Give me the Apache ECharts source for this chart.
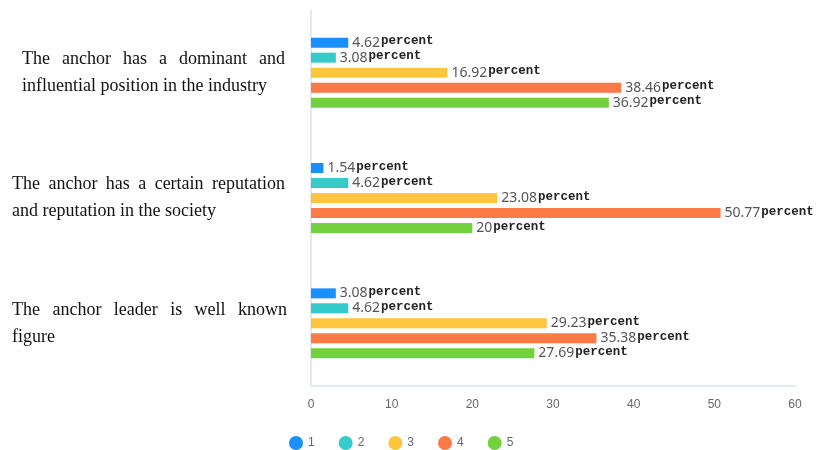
<!DOCTYPE html>
<html>
<head>
<meta charset="utf-8">
<script src="https://cdn.jsdelivr.net/npm/echarts@6/dist/echarts.min.js"></script>
<style>
  html, body { margin: 0; padding: 0; background: #fff; }
  #chart { width: 821px; height: 450px; }
</style>
</head>
<body>
<div id="chart"></div>
<script>
// Survey statements (top to bottom)
const statements = [
  'The anchor has a dominant and influential position in the industry',
  'The anchor has a certain reputation and reputation in the society',
  'The anchor leader is well known figure'
];
// How each statement wraps on the left
const statementLines = [
  ['The anchor has a dominant and', 'influential position in the industry'],
  ['The anchor has a certain reputation', 'and reputation in the society'],
  ['The anchor leader is well known', 'figure']
];
// Rating levels
const levels = ['1', '2', '3', '4', '5'];
// Share of respondents (percent) per level, per statement
const level1 = [4.62, 1.54, 3.08];
const level2 = [3.08, 4.62, 4.62];
const level3 = [16.92, 23.08, 29.23];
const level4 = [38.46, 50.77, 35.38];
const level5 = [36.92, 20, 27.69];
const levelValues = [level1, level2, level3, level4, level5];
// Value axis ticks
const xTicks = [0, 10, 20, 30, 40, 50, 60];

const colors = ['#1890ff', '#36cbcb', '#ffc53d', '#ff7a45', '#73d13d'];

// Justified first lines for the category labels
const LABEL_SIZE = 18;
const LABEL_FAMILY = '"Liberation Serif", "Times New Roman", serif';
const LINE_H = 27;
const justifySpec = [
  { indent: 10, width: 263 },
  { indent: 0, width: 273 },
  { indent: 0, width: 275 }
];
const measureCtx = document.createElement('canvas').getContext('2d');
measureCtx.font = LABEL_SIZE + 'px ' + LABEL_FAMILY;
const textWidth = s => measureCtx.measureText(s).width;

const labelRich = {
  w: { fontFamily: LABEL_FAMILY, fontSize: LABEL_SIZE, color: '#111', lineHeight: LINE_H }
};
const labelText = {};
statementLines.forEach((lines, i) => {
  const spec = justifySpec[i];
  const words = lines[0].split(' ');
  const wordsW = words.reduce((a, w) => a + textWidth(w), 0);
  const gap = Math.max((spec.width - wordsW) / (words.length - 1), 2);
  const gName = 'g' + i;
  labelRich[gName] = { width: gap, fontSize: LABEL_SIZE, lineHeight: LINE_H };
  const iName = 'i' + i;
  labelRich[iName] = { width: Math.max(spec.indent, 0.01), fontSize: LABEL_SIZE, lineHeight: LINE_H };
  const lead = spec.indent ? '{' + iName + '| }' : '';
  const first = lead + words.map(w => '{w|' + w + '}').join('{' + gName + '| }');
  const second = lead + '{w|' + lines[1] + '}';
  labelText[statements[i]] = first + '\n' + second;
});

const chart = echarts.init(document.getElementById('chart'));
chart.setOption({
  animation: false,
  color: colors,
  grid: { left: 311, right: 26, top: 10, bottom: 64, containLabel: false },
  legend: {
    data: levels,
    left: 284,
    top: 431,
    icon: 'circle',
    itemWidth: 14,
    itemHeight: 14,
    itemGap: 24,
    textStyle: { color: '#666', fontSize: 12 }
  },
  xAxis: {
    type: 'value',
    min: xTicks[0],
    max: xTicks[xTicks.length - 1],
    interval: 10,
    axisLine: { show: true, lineStyle: { color: '#e3e8f3', width: 2 } },
    axisTick: { show: false },
    splitLine: { show: false },
    axisLabel: { color: '#666', fontSize: 12, margin: 13 }
  },
  yAxis: {
    type: 'category',
    inverse: true,
    data: statements,
    axisLine: { show: true, lineStyle: { color: '#e3e8f3', width: 2 } },
    axisTick: { show: false },
    axisLabel: {
      align: 'left',
      margin: 299,
      formatter: v => labelText[v],
      rich: labelRich
    }
  },
  series: levels.map((name, k) => ({
    name: name,
    type: 'bar',
    barWidth: 10,
    barGap: '50%',
    data: levelValues[k],
    label: {
      show: true,
      position: 'right',
      distance: 4,
      formatter: p => '{v|' + p.value + '}{p|percent}',
      rich: {
        v: { fontFamily: '"Noto Sans", sans-serif', fontSize: 14, color: '#555' },
        p: { fontFamily: '"Liberation Mono", "DejaVu Sans Mono", monospace', fontSize: 12.5, fontWeight: 'bold', color: '#222', padding: [0, 0, 3, 1] }
      }
    }
  }))
});
</script>
</body>
</html>
